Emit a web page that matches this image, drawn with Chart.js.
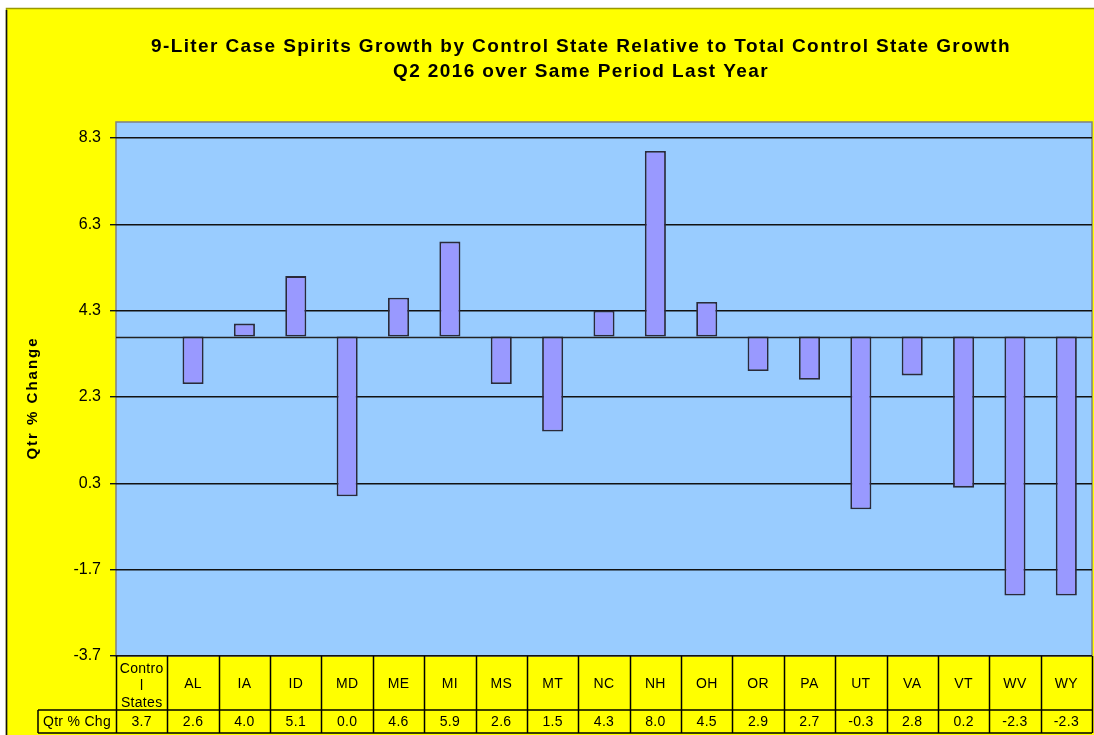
<!DOCTYPE html>
<html>
<head>
<meta charset="utf-8">
<script src="https://cdn.jsdelivr.net/npm/chart.js@4.4.1/dist/chart.umd.min.js"></script>
<style>
  html, body { margin: 0; padding: 0; background: #ffffff; }
  #wrap { width: 1094px; height: 735px; position: relative; }
</style>
</head>
<body>
<div id="wrap"><canvas id="chart"></canvas></div>
<script>
// ── Données ──────────────────────────────────────────────────────
const STATES = ["Control States", "AL", "IA", "ID", "MD", "ME", "MI", "MS", "MT", "NC",
                "NH", "OH", "OR", "PA", "UT", "VA", "VT", "WV", "WY"];
const QTR_CHG = [3.7, 2.6, 4.0, 5.1, 0.0, 4.6, 5.9, 2.6, 1.5, 4.3,
                 8.0, 4.5, 2.9, 2.7, -0.3, 2.8, 0.2, -2.3, -2.3];
const BASELINE = 3.7;   // total control states growth
const Y_TICKS = [-3.7, -1.7, 0.3, 2.3, 4.3, 6.3, 8.3];

const TITLE_LINES = [
  "9-Liter Case Spirits Growth by Control State Relative to Total Control State Growth",
  "Q2 2016 over Same Period Last Year",
];

const FONT = "Arial, 'Liberation Sans', sans-serif";

// ── Décor : fond jaune, zone de tracé, titre, axe, tableau ───────
const decor = {
  id: "decor",
  beforeDraw(chart) {
    const { ctx, chartArea: a } = chart;
    ctx.save();
    // cadre extérieur
    ctx.fillStyle = "#ffff00";
    ctx.fillRect(6, 8, 1094, 735);
    ctx.strokeStyle = "#999900";
    ctx.lineWidth = 1.5;
    ctx.beginPath();
    ctx.moveTo(6.5, 740); ctx.lineTo(6.5, 8.5); ctx.lineTo(1100, 8.5);
    ctx.stroke();
    ctx.strokeStyle = "#111";
    ctx.beginPath(); ctx.moveTo(6.5, 10); ctx.lineTo(6.5, 740); ctx.stroke();
    // zone de tracé
    ctx.fillStyle = "#99ccff";
    ctx.fillRect(a.left, a.top, a.right - a.left, a.bottom - a.top);
    ctx.strokeStyle = "#808080";
    ctx.lineWidth = 1.5;
    ctx.strokeRect(a.left, a.top, a.right - a.left, a.bottom - a.top);
    ctx.restore();
  },
  afterDatasetsDraw(chart) {
    const { ctx, chartArea: a, scales: { x, y } } = chart;
    ctx.save();
    // ligne de référence (axe des catégories croisant à 3.7)
    const yb = Math.round(y.getPixelForValue(BASELINE)) + 0.5;
    ctx.strokeStyle = "#222";
    ctx.lineWidth = 1.5;
    ctx.beginPath(); ctx.moveTo(a.left, yb); ctx.lineTo(a.right, yb); ctx.stroke();

    // titre
    ctx.fillStyle = "#000";
    ctx.textAlign = "center";
    ctx.textBaseline = "middle";
    ctx.font = "bold 19px " + FONT;
    ctx.letterSpacing = "1.4px";
    ctx.fillText(TITLE_LINES[0], 581, 47);
    ctx.fillText(TITLE_LINES[1], 581, 72);

    // titre de l'axe Y
    ctx.save();
    ctx.translate(33, 398);
    ctx.rotate(-Math.PI / 2);
    ctx.font = "bold 15px " + FONT;
    ctx.letterSpacing = "2px";
    ctx.fillText("Qtr % Change", 0, 0);
    ctx.restore();
    ctx.letterSpacing = "0px";

    // tableau de données
    const top = a.bottom, mid = 710, bot = 733;
    const step = (x.getPixelForValue(1) - x.getPixelForValue(0));
    ctx.strokeStyle = "#000";
    ctx.lineWidth = 1.5;
    ctx.beginPath();
    ctx.moveTo(38, mid); ctx.lineTo(a.right, mid);
    ctx.moveTo(38, bot); ctx.lineTo(a.right, bot);
    ctx.moveTo(38, mid); ctx.lineTo(38, bot);
    for (let i = 0; i <= STATES.length; i++) {
      const xe = Math.round(x.getPixelForValue(i) - step / 2) + 0.5;
      ctx.moveTo(xe, top); ctx.lineTo(xe, bot);
    }
    ctx.stroke();

    ctx.fillStyle = "#000";
    ctx.font = "14px " + FONT;
    ctx.letterSpacing = "0.3px";
    ctx.fillText("Qtr % Chg", 77, 722);
    STATES.forEach((s, i) => {
      const cx = x.getPixelForValue(i);
      if (s === "Control States") {
        ctx.fillText("Contro", cx, 669);
        ctx.fillText("l", cx, 686);
        ctx.fillText("States", cx, 703);
      } else {
        ctx.fillText(s, cx, 684);
      }
      ctx.fillText(QTR_CHG[i].toFixed(1), cx, 722);
    });
    ctx.restore();
  },
};

// ── Graphique ────────────────────────────────────────────────────
new Chart(document.getElementById("chart"), {
  type: "bar",
  data: {
    labels: STATES,
    datasets: [{
      label: "Qtr % Chg",
      data: QTR_CHG.map(v => [BASELINE, v]),
      backgroundColor: "#9999ff",
      borderColor: "#2a2a3a",
      borderWidth: 1.8,
      borderSkipped: false,
      barPercentage: 0.41,
      categoryPercentage: 1.0,
    }],
  },
  options: {
    responsive: true,
    maintainAspectRatio: false,
    animation: false,
    devicePixelRatio: 1,
    layout: { padding: { top: 122, right: 2, bottom: 79, left: 0 } },
    plugins: {
      legend: { display: false },
      tooltip: { enabled: false },
    },
    scales: {
      x: { display: false },
      y: {
        min: -3.7,
        max: 8.67,
        afterBuildTicks: s => { s.ticks = Y_TICKS.map(v => ({ value: v })); },
        afterFit: s => { s.width = 116; },
        grid: { color: "#111", lineWidth: 1.4, tickLength: 6, drawTicks: true },
        border: { display: false },
        ticks: {
          color: "#000",
          padding: 9,
          font: { family: FONT, size: 16 },
          callback: v => v.toFixed(1),
        },
      },
    },
  },
  plugins: [decor],
});
</script>
</body>
</html>
